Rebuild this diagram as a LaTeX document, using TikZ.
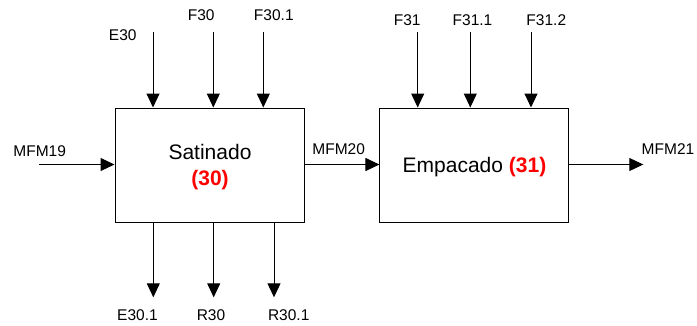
\documentclass[tikz,border=0pt]{standalone}
\usepackage{fontspec}
\setmainfont{Liberation Sans}
\usetikzlibrary{arrows.meta}
\definecolor{codered}{RGB}{255,0,0}
\tikzset{
  flow/.style={line width=1bp, -{Triangle[length=14bp,width=13bp]}},
  procbox/.style={draw, line width=1bp, rectangle, inner sep=0pt, minimum height=114bp},
  lbl/.style={anchor=base, inner sep=0pt, font=\fontsize{15.5bp}{18bp}\selectfont},
  title/.style={anchor=base, inner sep=0pt, font=\fontsize{21bp}{25bp}\selectfont},
  code/.style={title, text=codered, font=\fontsize{21bp}{25bp}\selectfont\bfseries}
}
\begin{document}
\begin{tikzpicture}[x=1bp, y=-1bp]
\useasboundingbox (0,0) rectangle (697,325);

% process boxes
\node[procbox, minimum width=189bp] (b1) at (209.5,165) {};
\node[procbox, minimum width=188.7bp] (b2) at (474.3,165) {};

% box captions
\node[title] (t1) at (210,159.3) {Satinado};
\node[code] (c1) at (210,185) {(30)};
\node[title] (t2) at (474.5,172.3) {Empacado \textcolor{codered}{\bfseries (31)}};

% free ends of the connectors
\coordinate (e30s) at (153,32);
\coordinate (f30s) at (213.3,32);
\coordinate (f301s) at (263.3,32);
\coordinate (f31s) at (417.7,32);
\coordinate (f311s) at (470.3,32);
\coordinate (f312s) at (531,32);
\coordinate (mfm19s) at (39.3,164.5);
\coordinate (mfm21e) at (643.3,164.5);
\coordinate (e301e) at (153.3,297.3);
\coordinate (r30e) at (213.7,297.3);
\coordinate (r301e) at (274,297.3);

% inputs from above
\draw[flow] (e30s) -- (e30s |- b1.north);
\draw[flow] (f30s) -- (f30s |- b1.north);
\draw[flow] (f301s) -- (f301s |- b1.north);
\draw[flow] (f31s) -- (f31s |- b2.north);
\draw[flow] (f311s) -- (f311s |- b2.north);
\draw[flow] (f312s) -- (f312s |- b2.north);

% main material flow
\draw[flow] (mfm19s) -- (mfm19s -| b1.west);
\draw[flow] (b1.east |- mfm19s) -- (b2.west |- mfm19s);
\draw[flow] (b2.east |- mfm21e) -- (mfm21e);

% outputs below
\draw[flow] (e301e |- b1.south) -- (e301e);
\draw[flow] (r30e |- b1.south) -- (r30e);
\draw[flow] (r301e |- b1.south) -- (r301e);

% stream labels
\node[lbl] (le30) at (122.7,40) {E30};
\node[lbl] (lf30) at (201.2,20.7) {F30};
\node[lbl] (lf301) at (273.8,20.7) {F30.1};
\node[lbl] (lf31) at (407.2,25.7) {F31};
\node[lbl] (lf311) at (472.5,25.7) {F31.1};
\node[lbl] (lf312) at (546.3,25.7) {F31.2};
\node[lbl] (lm19) at (39.7,156.7) {MFM19};
\node[lbl] (lm20) at (338.7,154.3) {MFM20};
\node[lbl] (lm21) at (668,154.3) {MFM21};
\node[lbl] (le301) at (137.5,320.7) {E30.1};
\node[lbl] (lr30) at (211,320.7) {R30};
\node[lbl] (lr301) at (288.7,320.7) {R30.1};
\end{tikzpicture}
\end{document}
